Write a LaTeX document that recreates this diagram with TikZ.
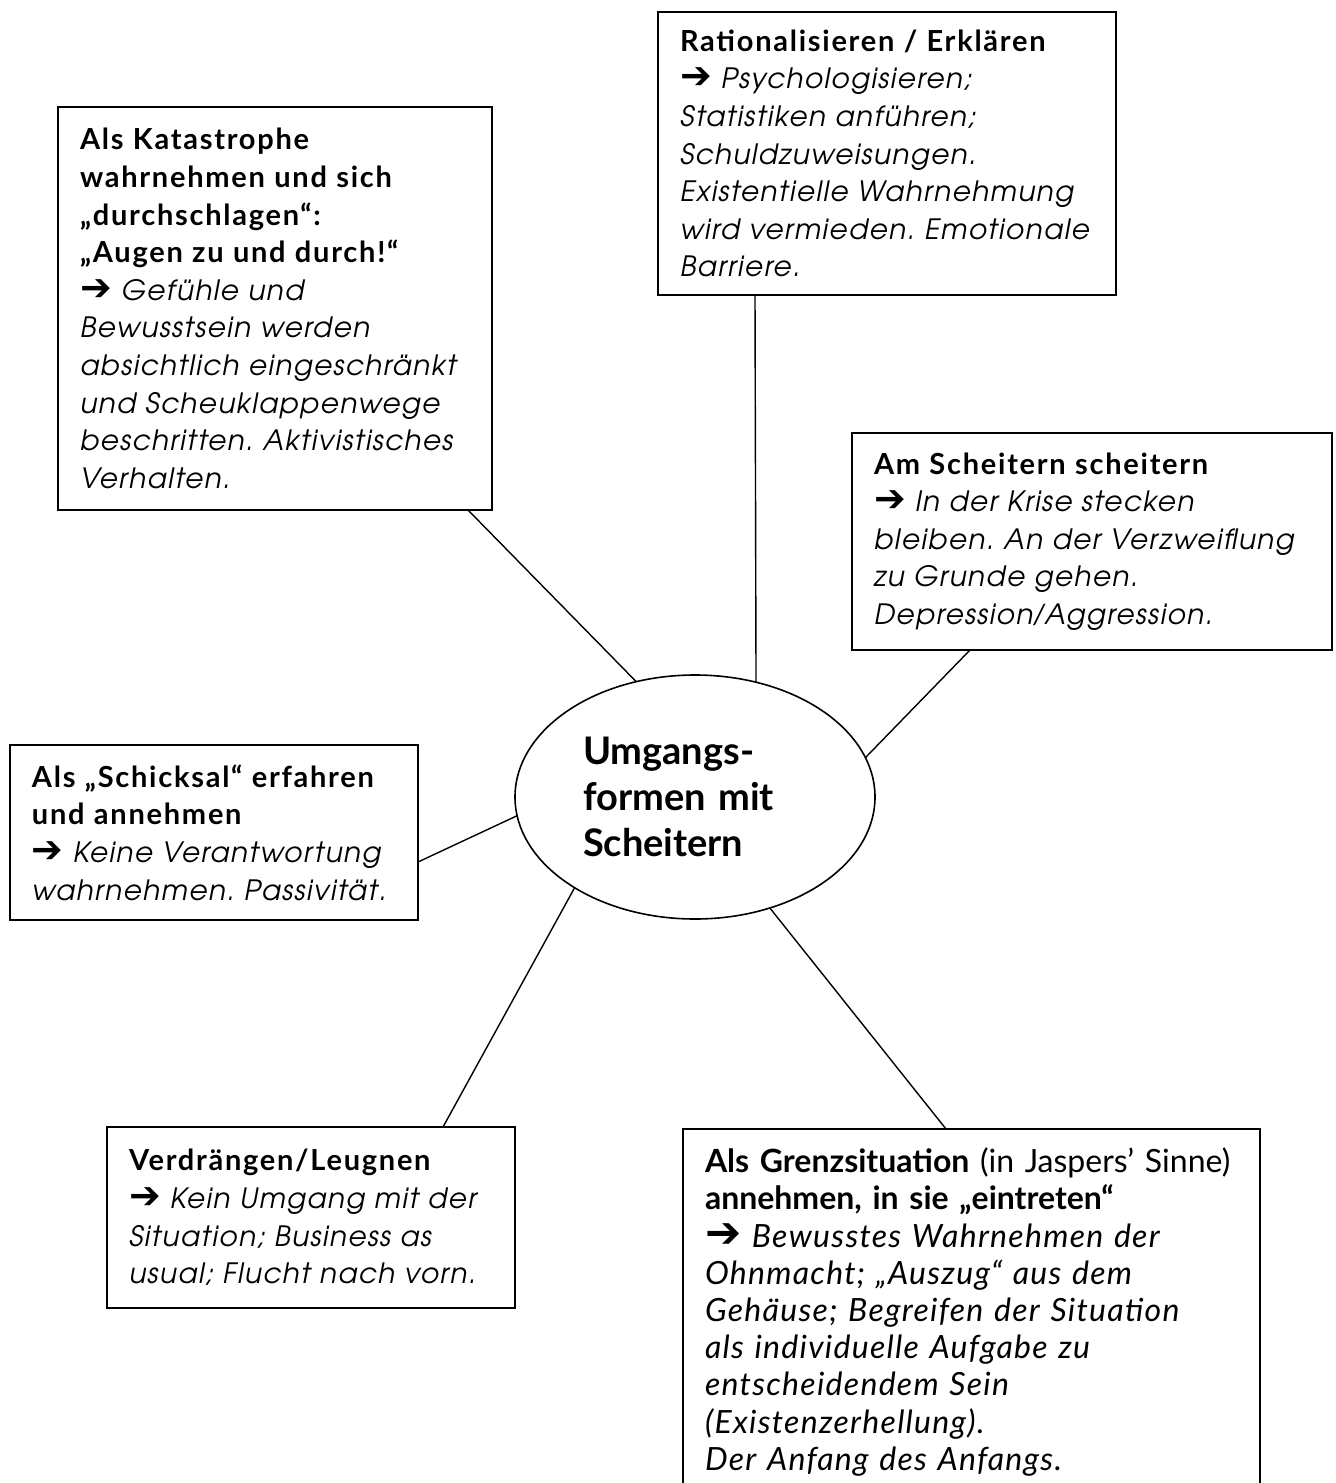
\documentclass[tikz,border=0pt]{standalone}
\usepackage{fontspec}
\setmainfont{texgyreadventor}[Extension=.otf,UprightFont=*-regular,BoldFont=*-bold,ItalicFont=*-italic,BoldItalicFont=*-bolditalic]
\newfontfamily\headfont{Lato}[LetterSpace=6]
\newfontfamily\hubfont{Lato}
\newfontfamily\descfont{texgyreadventor}[Extension=.otf,UprightFont=*-italic,LetterSpace=5]
\newfontfamily\grenzfont{Lato}
\newfontfamily\arrowfont{DejaVu Sans}
\usetikzlibrary{shapes.geometric}
\frenchspacing
\newcommand{\hd}[1]{{\headfont\bfseries\fontsize{14.5}{18.8}\selectfont #1}}
\newcommand{\ds}[1]{{\descfont #1}}
\newcommand{\gi}[1]{{\itshape\addfontfeatures{LetterSpace=4}#1}}
\newcommand{\arr}{\scalebox{1.35}{\arrowfont\bfseries ➔}}

\begin{document}
\begin{tikzpicture}[x=0.5pt,y=-0.5pt]
  \tikzset{mapbox/.style={draw=black,line width=0.9pt,anchor=north west,inner xsep=11pt,inner ysep=0pt,outer sep=0pt,align=left}}
  \tikzset{bodytext/.style={font=\fontsize{14}{18.8}\selectfont}}
  \tikzset{hub/.style={draw=black,line width=0.8pt,ellipse,minimum width=180pt,minimum height=122pt,inner sep=0pt,outer sep=0pt,text width=112pt,align=left,font=\hubfont\bfseries\fontsize{19}{23}\selectfont}}
  \tikzset{link/.style={draw=black,line width=0.7pt}}
  \useasboundingbox (0,0) rectangle (1336,1483);
  \node[hub] (hub) at (695,797) {Umgangs-\\formen mit\\Scheitern};
  \node[mapbox,bodytext,minimum width=217pt,minimum height=201.5pt,text width=195pt] (kata) at (58,107)
    {\hd{Als Katastrophe}\\ \hd{wahrnehmen und sich}\\ \hd{„durchschlagen“:}\\ \hd{„Augen zu und durch!“}\\
     \arr\ \ds{Gefühle und}\\ \ds{Bewusstsein werden}\\ \ds{absichtlich eingeschränkt}\\ \ds{und Scheuklappenwege}\\
     \ds{beschritten. Aktivistisches}\\ \ds{Verhalten.}};
  \node[mapbox,bodytext,minimum width=229pt,minimum height=141.5pt,text width=207pt] (ratio) at (658,12)
    {\hd{Rationalisieren / Erklären}\\ \arr\ \ds{Psychologisieren;}\\ \ds{Statistiken anführen;}\\ \ds{Schuldzuweisungen.}\\
     \ds{Existentielle Wahrnehmung}\\ \ds{wird vermieden. Emotionale}\\ \ds{Barriere.}};
  \node[mapbox,bodytext,minimum width=240pt,minimum height=108.5pt,text width=218pt] (stuck) at (852,433)
    {\hd{Am Scheitern scheitern}\\ \arr\ \ds{In der Krise stecken}\\ \ds{bleiben. An der Verzweiflung}\\ \ds{zu Grunde gehen.}\\
     \ds{Depression}{\hubfont\itshape/}\ds{Aggression.}};
  \node[mapbox,bodytext,minimum width=204pt,minimum height=87.5pt,text width=182pt] (fate) at (10,745)
    {\hd{Als „Schicksal“ erfahren}\\ \hd{und annehmen}\\ \arr\ \ds{Keine Verantwortung}\\ \ds{wahrnehmen. Passivität.}};
  \node[mapbox,bodytext,minimum width=204pt,minimum height=90.5pt,text width=182pt] (deny) at (107,1127)
    {\hd{Verdrängen/Leugnen}\\ \arr\ \ds{Kein Umgang mit der}\\ \ds{Situation; Business as}\\ \ds{usual; Flucht nach vorn.}};
  \node[mapbox,minimum width=288.5pt,minimum height=183pt,text width=266.5pt,font=\grenzfont\fontsize{16}{18.6}\selectfont] (limit) at (683,1129)
    {\textbf{Als Grenzsituation} (in Jaspers’ Sinne)\\ \textbf{annehmen, in sie „eintreten“}\\
     \arr\ \gi{Bewusstes Wahrnehmen der}\\ \gi{Ohnmacht; „Auszug“ aus dem}\\ \gi{Gehäuse; Begreifen der Situation}\\
     \gi{als individuelle Aufgabe zu}\\ \gi{entscheidendem Sein}\\ \gi{(Existenzerhellung).}\\ \gi{Der Anfang des Anfangs.}};
  \draw[link] ([xshift=-12pt]kata.south east) -- (hub.117);
  \draw[link] ([xshift=48.5pt]ratio.south west) -- (hub.62);
  \draw[link] ([xshift=59pt]stuck.south west) -- (hub.13);
  \draw[link] ([yshift=-14.75pt]fate.east) -- (hub.186);
  \draw[link] ([xshift=-36pt]deny.north east) -- (hub.217.5);
  \draw[link] ([xshift=131.5pt]limit.north west) -- (hub.304);
\end{tikzpicture}
\end{document}
